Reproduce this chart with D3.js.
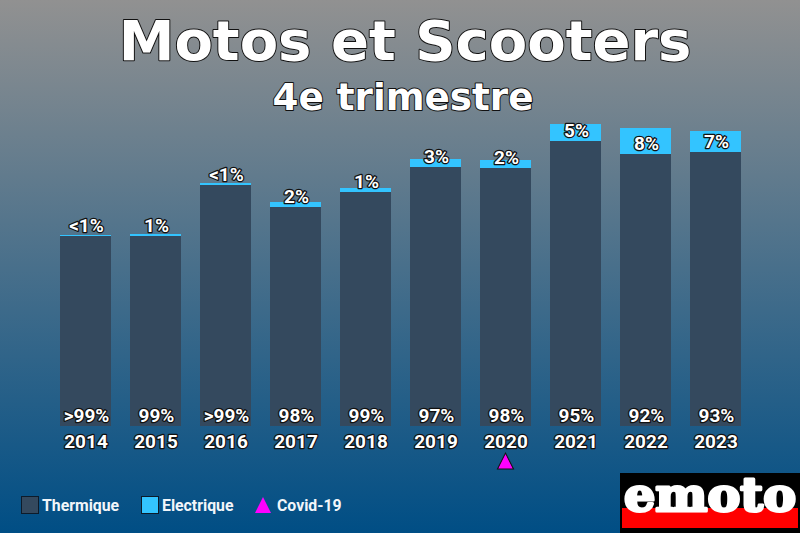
<!DOCTYPE html>
<html>
<head>
<meta charset="utf-8">
<script src="https://cdn.jsdelivr.net/npm/d3@7"></script>
<style>
    html, body { margin: 0; padding: 0; overflow: hidden; }
    svg { display: block; }
    text { fill: #fff; paint-order: stroke; stroke: #111; stroke-linejoin: round; }
    .title { font-family: "DejaVu Sans"; font-weight: bold; text-anchor: middle; }
    .label { font-family: Roboto; font-weight: bold; font-size: 19px; stroke-width: 2.5px; text-anchor: middle; }
    .legend { font-family: Roboto; font-weight: bold; font-size: 15.8px; stroke: none; fill: #f2f6fa; }
</style>
</head>
<body>
<div id="chart"></div>
<script>
// Chart values (the height of the bars, no unit on the original)
var years = ["2014", "2015", "2016", "2017", "2018", "2019", "2020", "2021", "2022", "2023"];
var thermique = [190, 190, 241, 219, 234, 259, 258, 285, 272, 274];
var electrique = [1, 2, 2, 5, 4, 8, 8, 17, 26, 21];
var thermiqueLabels = [">99%", "99%", ">99%", "98%", "99%", "97%", "98%", "95%", "92%", "93%"];
var electriqueLabels = ["<1%", "1%", "<1%", "2%", "1%", "3%", "2%", "5%", "8%", "7%"];
var covidYears = ["2020"];
var legendNames = ["Thermique", "Electrique", "Covid-19"];

var svgWidth = 800;
var svgHeight = 533;

var colorThermique = "#34495e";
var colorElectrique = "#33c4ff";
var colorCovid = "#ff00ff";

var svg = d3.select("#chart")
    .append("svg")
    .attr("width", svgWidth)
    .attr("height", svgHeight);

// Background gradient
var gradient = svg.append("defs").append("linearGradient")
    .attr("id", "bg")
    .attr("x1", 0).attr("y1", 0)
    .attr("x2", 0).attr("y2", 1);
gradient.append("stop").attr("offset", "0%").attr("stop-color", "#919191");
gradient.append("stop").attr("offset", "100%").attr("stop-color", "#004e85");

svg.append("rect")
    .attr("width", svgWidth)
    .attr("height", svgHeight)
    .attr("fill", "url(#bg)");

// Titles
svg.append("text").attr("class", "title")
    .attr("x", 405).attr("y", 60)
    .attr("font-size", 56).attr("stroke-width", 2)
    .text("Motos et Scooters");
svg.append("text").attr("class", "title")
    .attr("x", 403).attr("y", 110)
    .attr("font-size", 37.3).attr("stroke-width", 2)
    .text("4e trimestre");

// Scales
var xScale = d3.scaleBand()
    .domain(years)
    .range([50.5, 750.5])
    .paddingInner(19 / 70)
    .paddingOuter(19 / 140);

var yScale = d3.scaleLinear()
    .domain([0, 302])
    .range([426, 124]);

// Bars
var bars = svg.selectAll(".bar")
    .data(years)
    .enter()
    .append("g")
    .attr("class", "bar");

bars.append("rect")
    .attr("x", d => xScale(d))
    .attr("width", xScale.bandwidth())
    .attr("y", (d, i) => yScale(thermique[i]))
    .attr("height", (d, i) => yScale(0) - yScale(thermique[i]))
    .attr("fill", colorThermique);

bars.append("rect")
    .attr("x", d => xScale(d))
    .attr("width", xScale.bandwidth())
    .attr("y", (d, i) => yScale(thermique[i] + electrique[i]))
    .attr("height", (d, i) => yScale(0) - yScale(electrique[i]))
    .attr("fill", colorElectrique);

// Percent labels
bars.append("text")
    .attr("class", "label")
    .attr("x", d => xScale(d) + xScale.bandwidth() / 2 + 1)
    .attr("y", 422)
    .text((d, i) => thermiqueLabels[i]);

// the electric label always sits just above the top of the dark bar
bars.append("text")
    .attr("class", "label")
    .attr("x", d => xScale(d) + xScale.bandwidth() / 2 + 1)
    .attr("y", (d, i) => yScale(thermique[i]) - 4)
    .text((d, i) => electriqueLabels[i]);

// Year axis
var bottomAxis = d3.axisBottom(xScale).tickSize(0).tickPadding(8.5);
var axisGroup = svg.append("g")
    .attr("transform", "translate(0, 426)")
    .call(bottomAxis);
axisGroup.select(".domain").remove();
axisGroup.selectAll("text")
    .attr("class", "label")
    .attr("x", 0.5);

// Covid marker
var triangle = d3.symbol().type(d3.symbolTriangle).size(111);

svg.selectAll(".covid")
    .data(covidYears)
    .enter()
    .append("path")
    .attr("class", "covid")
    .attr("d", triangle)
    .attr("transform", d => `translate(${xScale(d) + xScale.bandwidth() / 2}, 463.7) scale(1, 1.15)`)
    .attr("fill", colorCovid)
    .attr("stroke", "#111")
    .attr("stroke-width", 1);

// Legend
var legend = svg.append("g");
legend.append("rect").attr("x", 21.5).attr("y", 496.5).attr("width", 17).attr("height", 17)
    .attr("fill", colorThermique).attr("stroke", "#0d1b2a");
legend.append("text").attr("class", "legend").attr("x", 42).attr("y", 511).text(legendNames[0]);
legend.append("rect").attr("x", 141.5).attr("y", 496.5).attr("width", 17).attr("height", 17)
    .attr("fill", colorElectrique).attr("stroke", "#0d1b2a");
legend.append("text").attr("class", "legend").attr("x", 162).attr("y", 511).text(legendNames[1]);
legend.append("path")
    .attr("d", triangle)
    .attr("transform", "translate(263, 507.7) scale(1, 1.15)")
    .attr("fill", colorCovid);
legend.append("text").attr("class", "legend").attr("x", 277).attr("y", 511).text(legendNames[2]);

// Logo
var logo = svg.append("g");
logo.append("rect").attr("x", 620).attr("y", 473).attr("width", 180).attr("height", 60).attr("fill", "#000");
logo.append("rect").attr("x", 622).attr("y", 508).attr("width", 176).attr("height", 20).attr("fill", "#f00");
logo.append("text")
    .attr("x", 710).attr("y", 511)
    .attr("text-anchor", "middle")
    .attr("font-family", "DejaVu Serif")
    .attr("font-weight", "bold")
    .attr("font-size", 47)
    .attr("textLength", 172)
    .attr("lengthAdjust", "spacingAndGlyphs")
    .style("stroke", "#fff")
    .style("stroke-width", "3px")
    .text("emoto");
</script>
</body>
</html>
